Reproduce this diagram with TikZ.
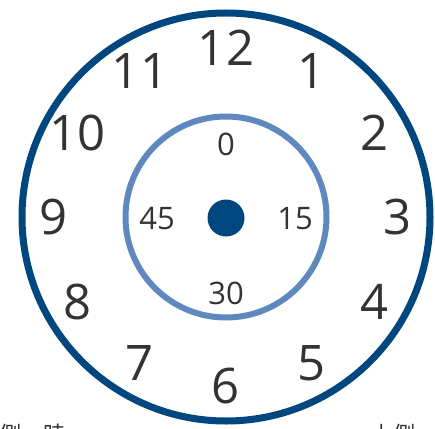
\documentclass[tikz,border=0pt]{standalone}
\usepackage{fontspec}
\setmainfont{Open Sans}
\newfontfamily\jpfont{Noto Sans CJK JP}
\usepackage{tikz}
\definecolor{faceblue}{HTML}{00467F}
\definecolor{ringblue}{HTML}{5E88BE}
\definecolor{numgray}{HTML}{333333}

\begin{document}
\begin{tikzpicture}[
    x=1pt, y=1pt,
    outerring/.style={draw=faceblue, line width=7pt},
    innerring/.style={draw=ringblue, line width=6pt},
    hour/.style={text=numgray, inner sep=0pt, font=\fontsize{49}{49}\selectfont},
    minute/.style={text=numgray, inner sep=0pt, font=\fontsize{31}{31}\selectfont},
    note/.style={text=numgray, inner sep=0pt, anchor=north west, font=\jpfont\fontsize{22}{22}\selectfont}
]
\useasboundingbox (-226,-211) rectangle (209,217);
\clip (-226,-211) rectangle (209,217);

% Clock face
\node[outerring, circle, minimum size=408pt] (face) at (0,0) {};
\node[innerring, circle, minimum size=201pt] (ring) at (0,0) {};
\node[circle, fill=faceblue, minimum size=37pt, inner sep=0pt] (hub) at (0,-1) {};

% Hours
\foreach \h in {1,...,12}
    \node[hour] (h\h) at ({172*cos(90-30*\h)},{169*sin(90-30*\h)}) {\h};

% Minutes
\node[minute] (m0) at (0,73) {0};
\node[minute] (m15) at (69,-2) {15};
\node[minute] (m30) at (0,-76) {30};
\node[minute] (m45) at (-69,-2) {45};

% Caption (cut off at the bottom)
\node[note] (capleft) at (-227,-207) {側\quad 時};
\node[note] (capright) at (145,-207) {上側};

\end{tikzpicture}
\end{document}
